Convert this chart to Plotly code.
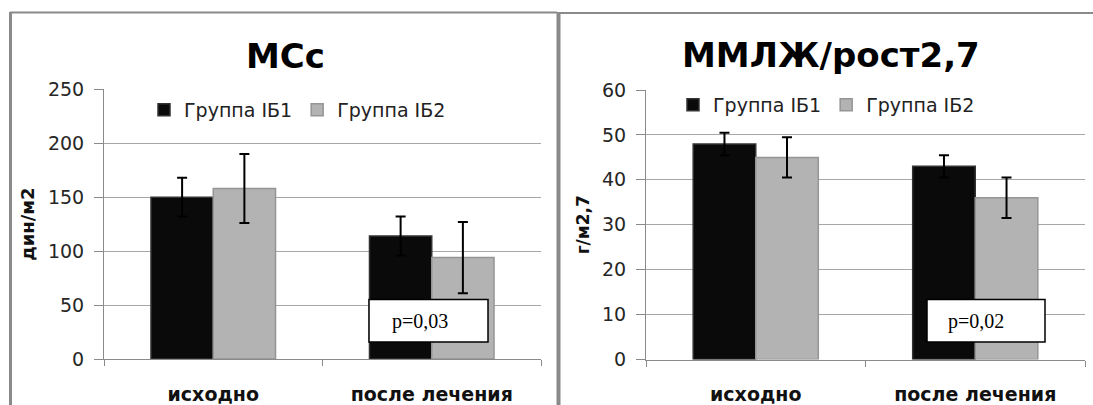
import plotly.graph_objects as go

W, H = 1093, 405

categories = ["исходно", "после лечения"]
groups = ["Группа IБ1", "Группа IБ2"]

# МСс, дин/м2
msc_ib1 = [150, 114]
msc_ib1_err = [18, 18]
msc_ib2 = [158, 94]
msc_ib2_err = [32, 33]
msc_p = "p=0,03"

# ММЛЖ/рост2,7, г/м2,7
mmlj_ib1 = [48, 43]
mmlj_ib1_err = [2.5, 2.5]
mmlj_ib2 = [45, 36]
mmlj_ib2_err = [4.5, 4.5]
mmlj_p = "p=0,02"

FONT = "DejaVu Sans"
BLACK_BAR = "#0a0a0a"
GRAY_BAR = "#b3b3b3"
AXIS = "#8a8a8a"
GRID = "#a6a6a6"


def px_x(v):
    return v / W


def px_y(v):
    return 1 - v / H


fig = go.Figure()
xpos = list(range(len(categories)))

panels = [
    dict(xa="x", ya="y", leg="legend", a=msc_ib1, ae=msc_ib1_err, b=msc_ib2, be=msc_ib2_err),
    dict(xa="x2", ya="y2", leg="legend2", a=mmlj_ib1, ae=mmlj_ib1_err, b=mmlj_ib2, be=mmlj_ib2_err),
]
for p in panels:
    for name, vals, errs, color, edge in [
        (groups[0], p["a"], p["ae"], BLACK_BAR, "#333333"),
        (groups[1], p["b"], p["be"], GRAY_BAR, "#959595"),
    ]:
        fig.add_trace(go.Bar(
            x=xpos, y=vals, name=name,
            xaxis=p["xa"], yaxis=p["ya"], legend=p["leg"],
            marker=dict(color=color, line=dict(color=edge, width=1.5)),
            error_y=dict(type="data", array=errs, visible=True,
                         color="#000000", thickness=2, width=5),
        ))

xcommon = dict(
    range=[-0.5, 1.5], tickmode="array", tickvals=xpos, ticktext=categories,
    ticks="", showline=True, linecolor=AXIS, linewidth=1, showgrid=False,
    zeroline=False, ticklabelstandoff=18, automargin=False,
    tickfont=dict(family=FONT, size=19, color="#111111", weight="bold"),
    minor=dict(tickmode="array", tickvals=[-0.5, 0.5, 1.5], ticks="outside",
               ticklen=6, tickcolor=AXIS, showgrid=False),
    fixedrange=True,
)
ycommon = dict(
    showline=True, linecolor=AXIS, linewidth=1, showgrid=True, gridcolor=GRID,
    gridwidth=1, zeroline=False, ticks="outside", ticklen=9, tickcolor=AXIS,
    ticklabelstandoff=6, automargin=False,
    tickfont=dict(family=FONT, size=19, color="#262626"),
    fixedrange=True,
)

fig.update_layout(
    width=W, height=H,
    margin=dict(l=0, r=0, t=0, b=0, autoexpand=False),
    paper_bgcolor="white", plot_bgcolor="white",
    barmode="group", bargap=0.43, bargroupgap=0,
    font=dict(family=FONT, color="#111111"),
    xaxis=dict(domain=[px_x(104), px_x(541)], anchor="y", **xcommon),
    yaxis=dict(domain=[px_y(359), px_y(89.3)], anchor="x", range=[0, 250], dtick=50,
               title=dict(text="дин/м2", standoff=8,
                          font=dict(family=FONT, size=18, color="#111111", weight="bold")),
               **ycommon),
    xaxis2=dict(domain=[px_x(646), px_x(1085)], anchor="y2", **xcommon),
    yaxis2=dict(domain=[px_y(359.5), px_y(90)], anchor="x2", range=[0, 60], dtick=10,
                title=dict(text="г/м2,7", standoff=8,
                           font=dict(family=FONT, size=17, color="#111111", weight="bold")),
                **ycommon),
    legend=dict(orientation="h", x=px_x(144), y=px_y(110), xanchor="left", yanchor="middle",
                font=dict(family=FONT, size=19, color="#222222"), bgcolor="rgba(0,0,0,0)",
                itemwidth=30, tracegroupgap=0),
    legend2=dict(orientation="h", x=px_x(673), y=px_y(105), xanchor="left", yanchor="middle",
                 font=dict(family=FONT, size=19, color="#222222"), bgcolor="rgba(0,0,0,0)",
                 itemwidth=30, tracegroupgap=0),
)

# panel titles
fig.add_annotation(text="<b>МСс</b>", x=px_x(285), y=px_y(56), xref="paper", yref="paper",
                   xanchor="center", yanchor="middle", showarrow=False,
                   font=dict(family=FONT, size=34, color="#000000"))
fig.add_annotation(text="<b>ММЛЖ/рост2,7</b>", x=px_x(831), y=px_y(55), xref="paper", yref="paper",
                   xanchor="center", yanchor="middle", showarrow=False,
                   font=dict(family=FONT, size=34, color="#000000"))

# p-value boxes
for (x0, x1, tx), txt in [((369, 488, 390), msc_p), ((927, 1045, 946), mmlj_p)]:
    fig.add_shape(type="rect", xref="paper", yref="paper",
                  x0=px_x(x0), x1=px_x(x1), y0=px_y(342), y1=px_y(299.5),
                  fillcolor="white", line=dict(color="#000000", width=1.5), layer="above")
    fig.add_annotation(text=txt, x=px_x(tx), y=px_y(321), xref="paper", yref="paper",
                       xanchor="left", yanchor="middle", showarrow=False,
                       font=dict(family="Liberation Serif", size=20, color="#000000"))

# chart frames
frame = dict(xref="paper", yref="paper", layer="above")
fig.add_shape(type="line", x0=px_x(10.5), x1=px_x(10.5), y0=0, y1=px_y(12), line=dict(color=AXIS, width=3), **frame)
fig.add_shape(type="line", x0=px_x(10), x1=px_x(557), y0=px_y(12.5), y1=px_y(12.5), line=dict(color=AXIS, width=2), **frame)
fig.add_shape(type="line", x0=px_x(558.5), x1=px_x(558.5), y0=0, y1=px_y(12), line=dict(color=AXIS, width=4), **frame)
fig.add_shape(type="line", x0=px_x(560), x1=1, y0=px_y(13), y1=px_y(13), line=dict(color=AXIS, width=2), **frame)

fig.write_html("out.html")
